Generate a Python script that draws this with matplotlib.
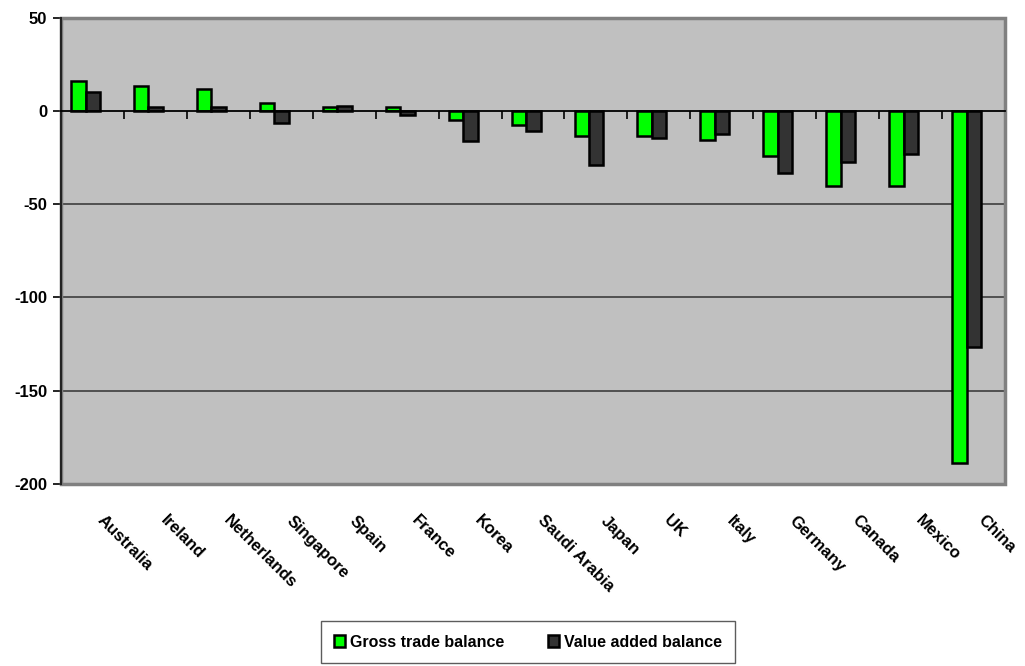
import numpy as np
import matplotlib
matplotlib.use("Agg")
import matplotlib.pyplot as plt
from matplotlib.patches import Rectangle
from matplotlib.transforms import blended_transform_factory, offset_copy

plt.rcParams['font.family'] = ['Liberation Sans', 'DejaVu Sans']

# valores
paises = ["Australia", "Ireland", "Netherlands", "Singapore", "Spain", "France",
          "Korea", "Saudi Arabia", "Japan", "UK", "Italy", "Germany", "Canada",
          "Mexico", "China"]
gross = [16.2, 13.5, 12.0, 4.3, 2.3, 2.0, -4.8, -7.3, -13.5, -13.5, -15.5,
         -24.0, -40.0, -40.0, -189.0]
valor_adic = [10.0, 2.3, 2.0, -6.6, 2.5, -2.0, -16.0, -11.0, -29.0, -14.6,
              -12.5, -33.0, -27.5, -23.0, -126.5]
yticks = [50, 0, -50, -100, -150, -200]

fig = plt.figure(figsize=(10.25, 6.66), dpi=100)
ax = fig.add_axes([0.0595, 0.2733, 0.921, 0.7001])
ax.set_facecolor("#C0C0C0")

x = np.arange(len(paises))
w = 0.23
ax.bar(x - 0.34, gross, width=w, align="edge", color="#00FF00",
       edgecolor="black", linewidth=1.8, label="Gross trade balance", zorder=3)
ax.bar(x - 0.11, valor_adic, width=w, align="edge", color="#333333",
       edgecolor="black", linewidth=1.8, label="Value added balance", zorder=3)

ax.set_xlim(-0.5, len(paises) - 0.5)
ax.set_ylim(-200, 50)

# linhas de grade
for v in [-50, -100, -150]:
    ax.axhline(v, color="#333333", linewidth=1.1, zorder=1)

# moldura cinza
ax.add_patch(Rectangle((0, 0), 1, 1, transform=ax.transAxes, fill=False,
                       edgecolor="#808080", linewidth=2.5, zorder=4, clip_on=False))
for s in ["top", "right"]:
    ax.spines[s].set_visible(False)
ax.spines["left"].set_color("#222222")
ax.spines["left"].set_linewidth(1.5)
ax.spines["left"].set_zorder(5)
ax.spines["bottom"].set_position(("data", 0))
ax.spines["bottom"].set_color("black")
ax.spines["bottom"].set_linewidth(1.3)
ax.spines["bottom"].set_zorder(5)

ax.set_yticks(yticks)
ax.set_yticklabels([str(v) for v in yticks], fontsize=12, fontweight="bold")
ax.tick_params(axis="y", length=6, width=1.2, color="black", pad=4)

ax.set_xticks(x)
ax.set_xticklabels([])
ax.tick_params(axis="x", which="major", length=0)
ax.set_xticks(np.arange(0.5, len(paises) - 1, 1), minor=True)
ax.tick_params(axis="x", which="minor", length=6, width=1.2, color="black",
               direction="out")

# rotulos das categorias, embaixo
tr = offset_copy(blended_transform_factory(ax.transData, ax.transAxes),
                 fig=fig, x=0, y=-29, units="dots")
for i, p in enumerate(paises):
    ax.text(i + 0.2, 0, p, transform=tr, rotation=-45, rotation_mode="anchor",
            ha="left", va="top", fontsize=12, fontweight="bold")

leg = fig.legend(loc="center", bbox_to_anchor=(0.515, 0.036), ncol=2,
                 frameon=True, fancybox=False, edgecolor="#333333",
                 handlelength=0.7, handleheight=0.7, handletextpad=0.3,
                 columnspacing=2.7, borderpad=0.85,
                 prop={"size": 11.5, "weight": "bold"})
leg.get_frame().set_linewidth(1.0)

fig.savefig("out.png", dpi=100)
